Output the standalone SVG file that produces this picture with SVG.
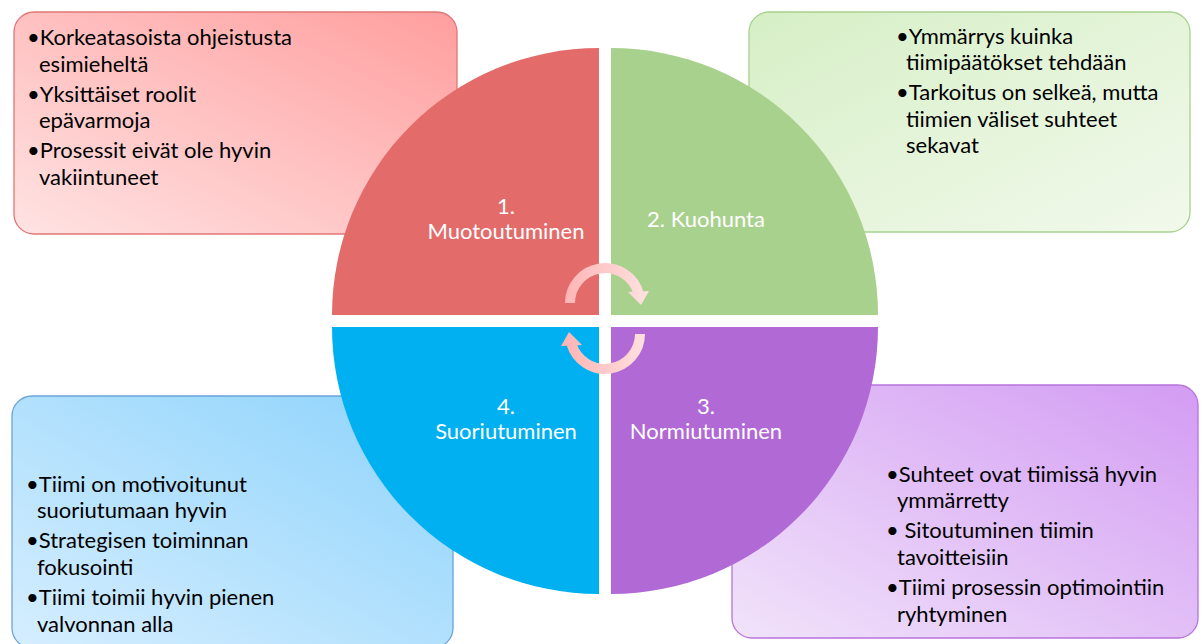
<svg xmlns="http://www.w3.org/2000/svg" width="1204" height="644" viewBox="0 0 1204 644">
<defs>
<linearGradient id="gRed" x1="1" y1="0" x2="0" y2="1"><stop offset="0" stop-color="#FF9E9E"/><stop offset="1" stop-color="#FFE3E3"/></linearGradient>
<linearGradient id="gGreen" x1="0" y1="0" x2="1" y2="1"><stop offset="0" stop-color="#D6EFC6"/><stop offset="1" stop-color="#F2F9EC"/></linearGradient>
<linearGradient id="gBlue" x1="1" y1="0" x2="0" y2="1"><stop offset="0" stop-color="#8DD3FB"/><stop offset="1" stop-color="#D6EEFF"/></linearGradient>
<linearGradient id="gPurple" x1="1" y1="0" x2="0" y2="1"><stop offset="0" stop-color="#D39CF3"/><stop offset="1" stop-color="#F1E3FA"/></linearGradient>
<linearGradient id="gArrow" gradientUnits="userSpaceOnUse" x1="562" y1="0" x2="650" y2="0"><stop offset="0" stop-color="#FFB3B3"/><stop offset="1" stop-color="#FFE2E2"/></linearGradient>
</defs>
<style>
.box{stroke-width:1.3}
.t{font-family:Lato,"Open Sans","Liberation Sans",sans-serif;font-size:22px;fill:#000}
.w{font-family:Lato,"Open Sans","Liberation Sans",sans-serif;font-size:22px;fill:#fff;text-anchor:middle}
.arc{fill:none;stroke:url(#gArrow);stroke-width:10}
.head{fill:url(#gArrow)}
</style>

<g id="box1">
<rect class="box" x="14" y="12" width="443" height="222" rx="20" fill="url(#gRed)" stroke="#E27575"/>
<text class="t"><tspan x="27" y="45">•Korkeatasoista ohjeistusta</tspan><tspan x="39" y="72">esimieheltä</tspan><tspan x="27" y="102">•Yksittäiset roolit</tspan><tspan x="39" y="128">epävarmoja</tspan><tspan x="27" y="158">•Prosessit eivät ole hyvin</tspan><tspan x="39" y="185">vakiintuneet</tspan></text>
</g>
<g id="box2">
<rect class="box" x="749" y="12" width="441" height="220" rx="20" fill="url(#gGreen)" stroke="#A9D18E"/>
<text class="t"><tspan x="896" y="44">•Ymmärrys kuinka</tspan><tspan x="906" y="70">tiimipäätökset tehdään</tspan><tspan x="896" y="100">•Tarkoitus on selkeä, mutta</tspan><tspan x="906" y="127">tiimien väliset suhteet</tspan><tspan x="906" y="153">sekavat</tspan></text>
</g>
<g id="box4">
<rect class="box" x="12" y="396" width="441" height="252" rx="20" fill="url(#gBlue)" stroke="#6AA4DA"/>
<text class="t"><tspan x="26" y="492">•Tiimi on motivoitunut</tspan><tspan x="37" y="518">suoriutumaan hyvin</tspan><tspan x="26" y="548">•Strategisen toiminnan</tspan><tspan x="37" y="575">fokusointi</tspan><tspan x="26" y="605">•Tiimi toimii hyvin pienen</tspan><tspan x="37" y="632">valvonnan alla</tspan></text>
</g>
<g id="box3">
<rect class="box" x="732" y="385" width="466" height="253" rx="20" fill="url(#gPurple)" stroke="#B674DB"/>
<text class="t"><tspan x="886" y="482">•Suhteet ovat tiimissä hyvin</tspan><tspan x="897" y="508">ymmärretty</tspan><tspan x="886" y="538">• Sitoutuminen tiimin</tspan><tspan x="897" y="565">tavoitteisiin</tspan><tspan x="886" y="595">•Tiimi prosessin optimointiin</tspan><tspan x="897" y="622">ryhtyminen</tspan></text>
</g>

<g id="q1">
<path d="M599,315 L332,315 A267,267 0 0 1 599,48 Z" fill="#E36C6B"/>
<text class="w"><tspan x="506" y="214">1.</tspan><tspan x="506" y="239">Muotoutuminen</tspan></text>
</g>
<g id="q2">
<path d="M611,315 L611,48 A267,267 0 0 1 878,315 Z" fill="#A9D18E"/>
<text class="w"><tspan x="706" y="227">2. Kuohunta</tspan></text>
</g>
<g id="q3">
<path d="M611,327 L878,327 A267,267 0 0 1 611,594 Z" fill="#B069D5"/>
<text class="w"><tspan x="706" y="414">3.</tspan><tspan x="706" y="439">Normiutuminen</tspan></text>
</g>
<g id="q4">
<path d="M599,327 L599,594 A267,267 0 0 1 332,327 Z" fill="#00B0F0"/>
<text class="w"><tspan x="506" y="414">4.</tspan><tspan x="506" y="439">Suoriutuminen</tspan></text>
</g>

<g id="connectors">
<path class="arc" d="M570,303 A35,35 0 0 1 638.5,293"/>
<polygon class="head" points="628,292 649,291 641,305"/>
<path class="arc" d="M640,334 A35,35 0 0 1 571.5,344"/>
<polygon class="head" points="582,345 561,346 569,332"/>
</g>
</svg>
